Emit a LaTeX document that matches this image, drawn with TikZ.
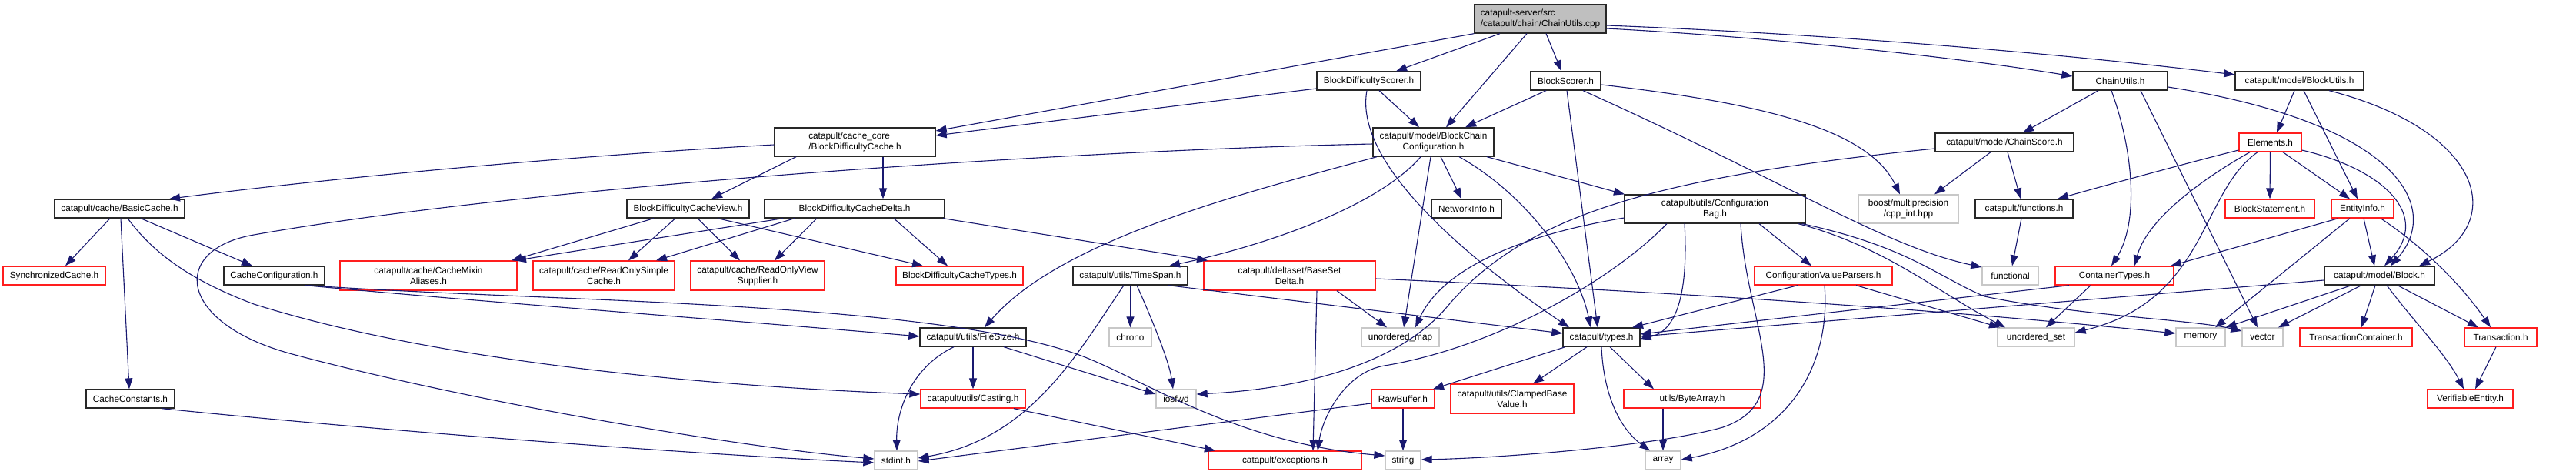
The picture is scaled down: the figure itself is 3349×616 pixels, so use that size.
\documentclass[tikz,border=0pt]{standalone}
\usepackage{fontspec}
\setmainfont{Liberation Sans}
\usetikzlibrary{arrows.meta}
\definecolor{edgecol}{RGB}{25,25,112}
\definecolor{sysgray}{RGB}{200,200,200}
\definecolor{boxred}{RGB}{255,30,30}
\definecolor{rootfill}{RGB}{191,191,191}
\definecolor{boxdark}{RGB}{40,40,40}
\newcommand{\bnode}[7]{\node[#1, minimum width={(#5)-(#3)}, minimum height={(#6)-(#4)}] (#2) at ({((#3)+(#5))/2},{((#4)+(#6))/2}) {#7};}
\begin{document}
\begin{tikzpicture}[x=1pt,y=-1pt,
  bx/.style={draw=boxdark, line width=1.3pt, rectangle, inner sep=0pt, font=\fontsize{11.8}{14}\selectfont, align=center, text=black},
  rbx/.style={bx, draw=boxred},
  gbx/.style={bx, draw=sysgray},
  dep/.style={draw=edgecol, line width=1.1pt, -{Triangle[length=14pt,width=10pt]}}]
\useasboundingbox[fill=white] (0,0) rectangle (3349,616);
% row 0
\bnode{bx,fill=rootfill,align=left}{root}{1917}{6}{2088}{43}{catapult-server/src\\/catapult/chain/ChainUtils.cpp}
% row 1
\bnode{bx}{bds}{1712}{93}{1847}{117}{BlockDifficultyScorer.h}
\bnode{bx}{bs}{1990}{93}{2081}{117}{BlockScorer.h}
\bnode{bx}{cu}{2695}{93}{2818}{117}{ChainUtils.h}
\bnode{bx}{bu}{2906}{93}{3073}{117}{catapult/model/BlockUtils.h}
% row 2
\bnode{bx,align=left}{cc}{1007}{166}{1216}{203}{catapult/cache\_core\\/BlockDifficultyCache.h}
\bnode{bx}{bcc}{1785}{166}{1942}{203}{catapult/model/BlockChain\\Configuration.h}
\bnode{bx}{cs}{2516}{173}{2696}{197}{catapult/model/ChainScore.h}
\bnode{rbx}{el}{2911}{173}{2992}{197}{Elements.h}
% row 3
\bnode{bx}{bc}{71}{259}{240}{283}{catapult/cache/BasicCache.h}
\bnode{bx}{bv}{815}{259}{974}{283}{BlockDifficultyCacheView.h}
\bnode{bx}{bd}{994}{259}{1228}{283}{BlockDifficultyCacheDelta.h}
\bnode{bx}{ni}{1861}{259}{1952}{283}{NetworkInfo.h}
\bnode{bx}{cb}{2112}{253}{2347}{290}{catapult/utils/Configuration\\Bag.h}
\bnode{gbx}{boost}{2416}{253}{2546}{290}{boost/multiprecision\\/cpp\_int.hpp}
\bnode{bx}{fn}{2568}{259}{2695}{283}{catapult/functions.h}
\bnode{rbx}{bst}{2893}{259}{3009}{283}{BlockStatement.h}
\bnode{rbx}{ei}{3031}{259}{3112}{283}{EntityInfo.h}
% row 4
\bnode{rbx}{sc}{4}{346}{137}{370}{SynchronizedCache.h}
\bnode{bx}{ccfg}{291}{346}{422}{370}{CacheConfiguration.h}
\bnode{rbx}{cma}{442}{339}{672}{377}{catapult/cache/CacheMixin\\Aliases.h}
\bnode{rbx}{rosc}{693}{339}{877}{377}{catapult/cache/ReadOnlySimple\\Cache.h}
\bnode{rbx}{rovs}{898}{339}{1072}{377}{catapult/cache/ReadOnlyView\\Supplier.h}
\bnode{rbx}{bdct}{1165}{346}{1330}{370}{BlockDifficultyCacheTypes.h}
\bnode{bx}{ts}{1395}{346}{1544}{370}{catapult/utils/TimeSpan.h}
\bnode{rbx}{bsd}{1565}{339}{1788}{377}{catapult/deltaset/BaseSet\\Delta.h}
\bnode{rbx}{cvp}{2281}{346}{2460}{370}{ConfigurationValueParsers.h}
\bnode{gbx}{functional}{2577}{346}{2650}{370}{functional}
\bnode{rbx}{ct}{2672}{346}{2826}{370}{ContainerTypes.h}
\bnode{bx}{block}{3022}{346}{3165}{370}{catapult/model/Block.h}
% row 5
\bnode{bx}{fs}{1196}{426}{1334}{450}{catapult/utils/FileSize.h}
\bnode{gbx}{chrono}{1442}{426}{1497}{450}{chrono}
\bnode{gbx}{umap}{1770}{426}{1871}{450}{unordered\_map}
\bnode{bx}{types}{2032}{426}{2132}{450}{catapult/types.h}
\bnode{gbx}{uset}{2597}{426}{2697}{450}{unordered\_set}
\bnode{gbx}{memory}{2829}{426}{2893}{450}{memory}
\bnode{gbx}{vector}{2915}{426}{2968}{450}{vector}
\bnode{rbx}{tc}{2990}{426}{3136}{450}{TransactionContainer.h}
\bnode{rbx}{tx}{3204}{426}{3298}{450}{Transaction.h}
% row 6
\bnode{bx}{ccon}{112}{506}{227}{530}{CacheConstants.h}
\bnode{rbx}{cast}{1197}{506}{1333}{530}{catapult/utils/Casting.h}
\bnode{gbx}{iosfwd}{1503}{506}{1555}{530}{iosfwd}
\bnode{rbx}{rb}{1783}{506}{1865}{530}{RawBuffer.h}
\bnode{rbx}{cbv}{1886}{499}{2046}{537}{catapult/utils/ClampedBase\\Value.h}
\bnode{rbx}{ba}{2111}{506}{2289}{530}{utils/ByteArray.h}
\bnode{rbx}{ve}{3156}{506}{3267}{530}{VerifiableEntity.h}
% row 7
\bnode{gbx}{stdint}{1137}{586}{1193}{610}{stdint.h}
\bnode{rbx}{exc}{1571}{586}{1770}{610}{catapult/exceptions.h}
\bnode{gbx}{string}{1801}{586}{1847}{610}{string}
\bnode{gbx}{array}{2139}{586}{2185}{610}{array}

% ---- edges ----
% root
\draw[dep] (root.south west) -- (cc.east |- 0,170);
\draw[dep] (root.south -| 1950,0) -- (bds.north -| 1815,0);
\draw[dep] (root.south -| 1985,0) -- (bcc.north -| 1880,0);
\draw[dep] (root.south -| 2010,0) -- (bs.north -| 2030,0);
\draw[dep] (root.east |- 0,37) .. controls (2300,48) and (2550,75) .. (cu.west |- 0,99);
\draw[dep] (root.east |- 0,33) .. controls (2400,45) and (2700,72) .. (bu.west |- 0,97);
% BlockDifficultyScorer
\draw[dep] (bds.west |- 0,115) -- (cc.east |- 0,176);
\draw[dep] (bds.south -| 1793,0) -- (bcc.north -| 1845,0);
\draw[dep] (bds.south -| 1777,0) .. controls (1760,210) and (1900,330) .. (types.north -| 2040,0);
% BlockScorer
\draw[dep] (bs.south -| 2010,0) -- (bcc.north -| 1905,0);
\draw[dep] (bs.south -| 2037,0) -- (types.north -| 2077,0);
\draw[dep] (bs.east |- 0,110) .. controls (2300,135) and (2430,170) .. (boost.north -| 2470,0);
\draw[dep] (bs.south -| 2058,0) .. controls (2330,240) and (2450,320) .. (functional.west |- 0,347);
% ChainUtils.h
\draw[dep] (cu.south -| 2728,0) -- (cs.north -| 2630,0);
\draw[dep] (cu.south -| 2745,0) .. controls (2775,200) and (2780,290) .. (ct.north -| 2745,0);
\draw[dep] (cu.south -| 2783,0) -- (vector.north -| 2935,0);
\draw[dep] (cu.east |- 0,113) .. controls (3120,160) and (3175,270) .. (block.north -| 3108,0);
% BlockUtils
\draw[dep] (bu.south -| 2983,0) -- (el.north -| 2960,0);
\draw[dep] (bu.south -| 2995,0) -- (ei.north -| 3065,0);
\draw[dep] (bu.south -| 3028,0) .. controls (3230,170) and (3260,290) .. (block.north -| 3145,0);
% cache_core
\draw[dep] (cc.west |- 0,188) .. controls (700,205) and (400,235) .. (bc.north -| 220,0);
\draw[dep] (cc.south -| 1035,0) -- (bv.north -| 925,0);
\draw[dep] (cc.south -| 1148,0) -- (bd.north -| 1148,0);
% BlockChainConfiguration
\draw[dep] (bcc.west |- 0,187) .. controls (1400,195) and (700,240) .. (330,305)
  .. controls (220,324) and (230,420) .. (380,460)
  .. controls (600,519) and (950,580) .. (stdint.west |- 0,596);
\draw[dep] (bcc.south -| 1790,0) .. controls (1620,250) and (1380,310) .. (fs.north -| 1280,0);
\draw[dep] (bcc.south -| 1847,0) .. controls (1790,270) and (1640,320) .. (ts.north -| 1520,0);
\draw[dep] (bcc.south -| 1860,0) -- (umap.north -| 1825,0);
\draw[dep] (bcc.south -| 1873,0) -- (ni.north -| 1900,0);
\draw[dep] (bcc.south -| 1897,0) .. controls (1980,250) and (2050,340) .. (types.north -| 2068,0);
\draw[dep] (bcc.south -| 1933,0) -- (cb.north -| 2112,0);
% ChainScore
\draw[dep] (cs.south -| 2588,0) -- (boost.north -| 2515,0);
\draw[dep] (cs.south -| 2610,0) -- (fn.north -| 2627,0);
\draw[dep] (cs.west |- 0,193) .. controls (2150,230) and (1980,280) .. (1880,400)
  .. controls (1820,470) and (1700,505) .. (iosfwd.east |- 0,512);
% Elements
\draw[dep] (el.west |- 0,195) .. controls (2850,210) and (2740,240) .. (fn.north -| 2675,0);
\draw[dep] (el.south -| 2925,0) .. controls (2850,240) and (2790,290) .. (ct.north -| 2775,0);
\draw[dep] (el.south -| 2935,0) .. controls (2860,250) and (2870,390) .. (uset.east |- 0,432);
\draw[dep] (el.south) -- (bst.north);
\draw[dep] (el.south -| 2968,0) -- (ei.north -| 3055,0);
\draw[dep] (el.east |- 0,195) .. controls (3100,220) and (3160,280) .. (block.north -| 3100,0);
% EntityInfo
\draw[dep] (ei.south -| 3040,0) -- (ct.north -| 2822,0);
\draw[dep] (ei.south -| 3055,0) -- (memory.north -| 2880,0);
\draw[dep] (ei.south -| 3073,0) -- (block.north -| 3087,0);
\draw[dep] (ei.south -| 3095,0) .. controls (3150,320) and (3200,370) .. (tx.north -| 3238,0);
% Block
\draw[dep] (block.west |- 0,364) -- (types.east |- 0,437);
\draw[dep] (block.south -| 3057,0) -- (memory.north east);
\draw[dep] (block.south -| 3070,0) -- (vector.north -| 2962,0);
\draw[dep] (block.south -| 3088,0) -- (tc.north -| 3070,0);
\draw[dep] (block.south -| 3103,0) .. controls (3140,420) and (3180,460) .. (ve.north -| 3203,0);
\draw[dep] (block.south -| 3117,0) -- (tx.north -| 3222,0);
\draw[dep] (tx.south -| 3245,0) -- (ve.north -| 3218,0);
% BasicCache
\draw[dep] (bc.south -| 143,0) -- (sc.north -| 85,0);
\draw[dep] (bc.south -| 157,0) -- (ccon.north -| 168,0);
\draw[dep] (bc.south -| 166,0) .. controls (200,330) and (250,365) .. (330,395)
  .. controls (600,480) and (1000,505) .. (cast.west |- 0,512);
\draw[dep] (bc.south -| 183,0) -- (ccfg.north -| 328,0);
% View / Delta
\draw[dep] (bv.south -| 850,0) -- (cma.north -| 665,0);
\draw[dep] (bv.south -| 878,0) -- (rosc.north -| 817,0);
\draw[dep] (bv.south -| 907,0) -- (rovs.north -| 962,0);
\draw[dep] (bv.south -| 933,0) -- (bdct.north -| 1200,0);
\draw[dep] (bd.south -| 1018,0) -- (cma.north -| 670,0);
\draw[dep] (bd.south -| 1033,0) -- (rosc.north -| 853,0);
\draw[dep] (bd.south -| 1062,0) -- (rovs.north -| 1007,0);
\draw[dep] (bd.south -| 1162,0) -- (bdct.north -| 1232,0);
\draw[dep] (bd.south -| 1226,0) -- (bsd.north -| 1570,0);
% CacheConfiguration / CacheConstants
\draw[dep] (ccfg.south -| 397,0) .. controls (600,390) and (1000,420) .. (fs.west |- 0,437);
\draw[dep] (ccfg.south -| 400,0) .. controls (700,392) and (1200,390) .. (1400,460)
  .. controls (1480,488) and (1600,575) .. (string.west |- 0,592);
\draw[dep] (ccon.south -| 210,0) .. controls (500,560) and (900,590) .. (stdint.west |- 0,601);
% TimeSpan
\draw[dep] (ts.south) -- (chrono.north);
\draw[dep] (ts.south -| 1478,0) .. controls (1500,420) and (1520,470) .. (iosfwd.north -| 1525,0);
\draw[dep] (ts.south -| 1461,0) .. controls (1400,460) and (1340,570) .. (stdint.east |- 0,595);
\draw[dep] (ts.south -| 1519,0) -- (types.west |- 0,433);
% BaseSetDelta
\draw[dep] (bsd.south -| 1738,0) -- (umap.north -| 1803,0);
\draw[dep] (bsd.south -| 1712,0) -- (exc.north -| 1707,0);
\draw[dep] (bsd.east |- 0,362) .. controls (2300,385) and (2600,410) .. (memory.west |- 0,433);
% ConfigurationBag
\draw[dep] (cb.west |- 0,283) .. controls (1950,310) and (1870,360) .. (umap.north -| 1840,0);
\draw[dep] (cb.south -| 2167,0) .. controls (2100,360) and (1950,450) .. (1800,475)
  .. controls (1750,483) and (1720,540) .. (exc.north -| 1713,0);
\draw[dep] (cb.south -| 2263,0) .. controls (2270,420) and (2340,520) .. (2240,555)
  .. controls (2150,580) and (1950,595) .. (string.east |- 0,597);
\draw[dep] (cb.south -| 2190,0) .. controls (2195,380) and (2180,430) .. (types.east |- 0,440);
\draw[dep] (cb.south -| 2287,0) -- (cvp.north -| 2355,0);
\draw[dep] (cb.south -| 2338,0) .. controls (2450,320) and (2520,380) .. (uset.north -| 2607,0);
\draw[dep] (cb.south -| 2343,0) .. controls (2480,320) and (2520,360) .. (2580,385)
  .. controls (2700,410) and (2850,415) .. (vector.west |- 0,430);
% ConfigurationValueParsers
\draw[dep] (cvp.south -| 2337,0) -- (types.north -| 2122,0);
\draw[dep] (cvp.south -| 2413,0) -- (uset.north -| 2600,0);
\draw[dep] (cvp.south -| 2372,0) .. controls (2380,470) and (2330,570) .. (array.east |- 0,597);
% functions / ContainerTypes
\draw[dep] (fn.south -| 2628,0) -- (functional.north -| 2616,0);
\draw[dep] (ct.south -| 2690,0) -- (types.east |- 0,434);
\draw[dep] (ct.south -| 2718,0) -- (uset.north -| 2660,0);
% types
\draw[dep] (types.south -| 2035,0) -- (rb.north -| 1863,0);
\draw[dep] (types.south -| 2063,0) -- (cbv.north -| 1993,0);
\draw[dep] (types.south -| 2093,0) -- (ba.north -| 2150,0);
\draw[dep] (types.south -| 2082,0) .. controls (2085,520) and (2110,560) .. (array.north -| 2145,0);
% leaves
\draw[dep] (rb.south) -- (string.north);
\draw[dep] (rb.west |- 0,524) -- (stdint.east |- 0,599);
\draw[dep] (ba.south -| 2162,0) -- (array.north);
\draw[dep] (fs.south -| 1240,0) .. controls (1180,480) and (1165,540) .. (stdint.north -| 1166,0);
\draw[dep] (fs.south) -- (cast.north);
\draw[dep] (fs.south -| 1305,0) -- (iosfwd.west |- 0,512);
\draw[dep] (cast.south -| 1318,0) -- (exc.north -| 1580,0);
\end{tikzpicture}
\end{document}
